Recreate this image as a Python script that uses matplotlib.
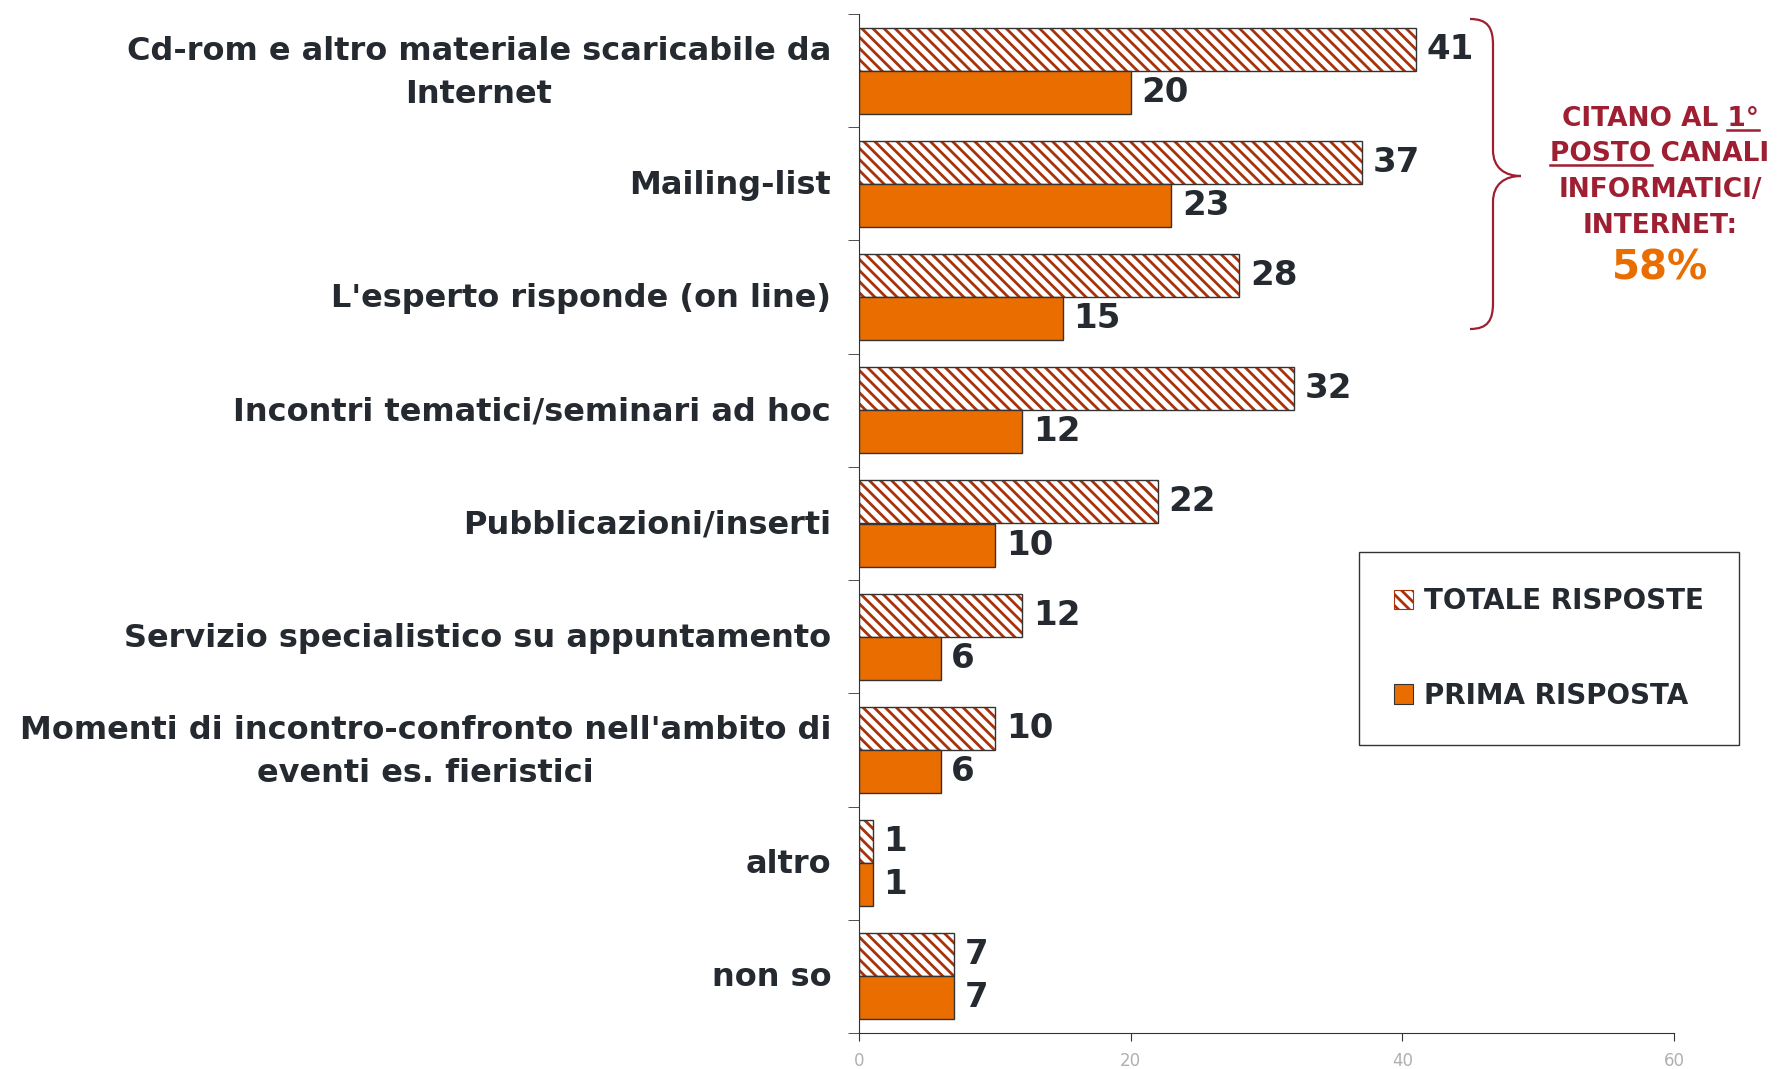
import matplotlib
matplotlib.use("Agg")
from matplotlib import pyplot as plt
from matplotlib.patches import Patch, PathPatch
from matplotlib.path import Path
from matplotlib.transforms import ScaledTranslation

categories = [
    "Cd-rom e altro materiale scaricabile da\nInternet",
    "Mailing-list",
    "L'esperto risponde (on line)",
    "Incontri tematici/seminari ad hoc",
    "Pubblicazioni/inserti",
    "Servizio specialistico su appuntamento",
    "Momenti di incontro-confronto nell'ambito di\neventi es. fieristici",
    "altro",
    "non so",
]
totale = [41, 37, 28, 32, 22, 12, 10, 1, 7]
prima = [20, 23, 15, 12, 10, 6, 6, 1, 7]
xticks = [0, 20, 40, 60]

ORANGE = '#EA6D00'
HATCH = '#A8320A'
MAROON = '#9E1F32'
DARK = '#252a30'

plt.rcParams['hatch.linewidth'] = 2.0
plt.rcParams['font.family'] = 'DejaVu Sans'

W, H = 1780, 1069
fig = plt.figure(figsize=(W / 100, H / 100), dpi=100)
ax = fig.add_axes([859 / W, 1 - 1033 / H, (1674 - 859) / W, (1033 - 14) / H])

y = list(range(len(categories)))
bh = 0.38
y_tot = [v - bh / 2 for v in y]
y_pri = [v + bh / 2 for v in y]

ax.barh(y_tot, totale, height=bh, color='white', edgecolor=HATCH, linewidth=0, hatch='\\\\\\')
ax.barh(y_tot, totale, height=bh, fill=False, edgecolor='#333333', linewidth=1.0)
ax.barh(y_pri, prima, height=bh, color=ORANGE, edgecolor='#333333', linewidth=1.0)

for yy, v in zip(y_tot, totale):
    ax.text(v + 0.8, yy, str(v), va='center', ha='left', fontsize=24.5, fontweight='bold', color=DARK)
for yy, v in zip(y_pri, prima):
    ax.text(v + 0.8, yy, str(v), va='center', ha='left', fontsize=24.5, fontweight='bold', color=DARK)

ax.set_xlim(0, 60)
ax.set_ylim(len(categories) - 0.5, -0.5)
ax.set_xticks(xticks)
ax.tick_params(axis='x', colors='#333333', labelcolor='#b0b0b0', labelsize=12, length=6, pad=8)
ax.set_yticks(y)
ax.set_yticklabels(categories, fontsize=23, fontweight='bold', color=DARK,
                   multialignment='center', linespacing=1.5)
ax.tick_params(axis='y', which='major', length=0, pad=20)
ax.set_yticks([v - 0.5 for v in y] + [len(categories) - 0.5], minor=True)
ax.tick_params(axis='y', which='minor', length=8, color='#333333')
for s in ['top', 'right']:
    ax.spines[s].set_visible(False)
for s in ['left', 'bottom']:
    ax.spines[s].set_color('#333333')

# nudge labels up a little (two-line ones more)
for lab in ax.get_yticklabels():
    dy = 0.07 if '\n' in lab.get_text() else 0.02
    lab.set_transform(lab.get_transform() + ScaledTranslation(0, dy, fig.dpi_scale_trans))

handles = [Patch(facecolor='white', edgecolor=HATCH, hatch='\\\\\\', linewidth=0.8),
           Patch(facecolor=ORANGE, edgecolor='#333333', linewidth=0.8)]
leg = fig.legend(handles, ['TOTALE RISPOSTE', 'PRIMA RISPOSTA'], loc='center',
                 bbox_to_anchor=((1354 + 1744) / 2 / W, 1 - (553 + 744) / 2 / H),
                 fancybox=False, edgecolor='#333333', framealpha=1,
                 prop={'size': 20, 'weight': 'bold'}, labelcolor=DARK,
                 handlelength=0.7, handleheight=0.7, handletextpad=0.4,
                 borderpad=1.25, labelspacing=2.4, borderaxespad=0)
leg.get_frame().set_linewidth(1.0)

# brace
def fp(px, py):
    return (px / W, 1 - py / H)

verts = [fp(1470, 19), fp(1488, 19), fp(1493, 28), fp(1493, 45),
         fp(1493, 150),
         fp(1493, 168), fp(1505, 176), fp(1521, 176),
         fp(1505, 176), fp(1493, 184), fp(1493, 202),
         fp(1493, 303),
         fp(1493, 320), fp(1488, 329), fp(1470, 329)]
codes = [Path.MOVETO, Path.CURVE4, Path.CURVE4, Path.CURVE4,
         Path.LINETO,
         Path.CURVE4, Path.CURVE4, Path.CURVE4,
         Path.CURVE4, Path.CURVE4, Path.CURVE4,
         Path.LINETO,
         Path.CURVE4, Path.CURVE4, Path.CURVE4]
fig.add_artist(PathPatch(Path(verts, codes), transform=fig.transFigure,
                         fill=False, edgecolor=MAROON, linewidth=1.6))

# annotation text
cx = 1660
lines = ["CITANO AL 1°", "POSTO CANALI", "INFORMATICI/", "INTERNET:"]
ly = [119, 154, 190, 226]
TS = 19
txts = []
for t, py in zip(lines, ly):
    txts.append(fig.text(cx / W, 1 - py / H, t, ha='center', va='center',
                         fontsize=TS, fontweight='bold', color=MAROON))
fig.text(cx / W, 1 - 268 / H, "58%", ha='center', va='center',
         fontsize=29, fontweight='bold', color=ORANGE)

fig.canvas.draw()
r = fig.canvas.get_renderer()

def width_of(s, size=TS):
    tmp = fig.text(0, 0, s, fontsize=size, fontweight='bold')
    w = tmp.get_window_extent(r).width
    tmp.remove()
    return w

b0 = txts[0].get_window_extent(r)
w1 = width_of("1°")
uy = b0.y0 + 2
fig.add_artist(plt.Line2D([(b0.x1 - w1) / W, b0.x1 / W], [uy / H, uy / H], color=MAROON, lw=1.8))
b1 = txts[1].get_window_extent(r)
w2 = width_of("POSTO")
uy = b1.y0 + 2
fig.add_artist(plt.Line2D([b1.x0 / W, (b1.x0 + w2) / W], [uy / H, uy / H], color=MAROON, lw=1.8))

fig.savefig('out.png', dpi=100)
